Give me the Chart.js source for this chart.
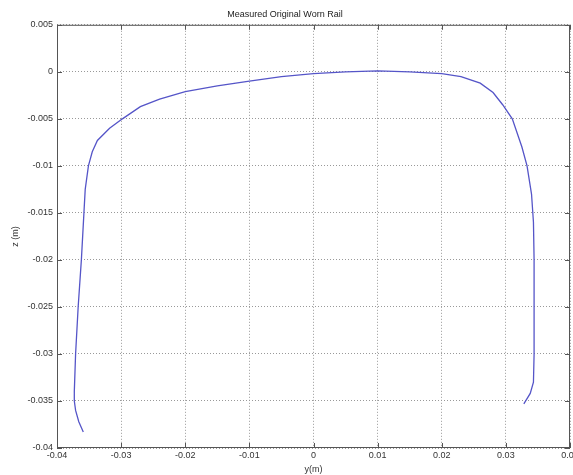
<!DOCTYPE html>
<html>
<head>
<meta charset="utf-8">
<script src="https://cdn.jsdelivr.net/npm/chart.js@4"></script>
<style>
  html, body { margin: 0; padding: 0; background: #fff; }
  #wrap { width: 573px; height: 475px; }
</style>
</head>
<body>
<div id="wrap"><canvas id="railChart" width="573" height="475"></canvas></div>
<script>
// rail profile: lateral y (m) and vertical z (m)
const yPos = [-0.0359, -0.0366, -0.0371, -0.0373, -0.0373, -0.0371, -0.0367, -0.0362, -0.0358, -0.0356,
    -0.0351, -0.0345, -0.0337, -0.0318, -0.0298, -0.0270, -0.0240, -0.0200, -0.0150, -0.0100,
    -0.0050, 0.0000, 0.0050, 0.0100, 0.0150, 0.0200, 0.0230, 0.0260, 0.0280, 0.0295,
    0.0310, 0.0325, 0.0333, 0.0340, 0.0343, 0.0344, 0.0344, 0.0344, 0.0343, 0.0338, 0.0328];
const zPos = [-0.0383, -0.0372, -0.0360, -0.0350, -0.0340, -0.0300, -0.0250, -0.0200, -0.0150, -0.0125,
    -0.0100, -0.0085, -0.0073, -0.0060, -0.0050, -0.0037, -0.0029, -0.0021, -0.0015, -0.0010,
    -0.0005, -0.0002, 0.0000, 0.0001, 0.0000, -0.0002, -0.0005, -0.0012, -0.0022, -0.0035,
    -0.0050, -0.0080, -0.0100, -0.0130, -0.0160, -0.0200, -0.0250, -0.0300, -0.0330, -0.0342, -0.0353];

const xTicks = [-0.04, -0.03, -0.02, -0.01, 0, 0.01, 0.02, 0.03, 0.04];
const zTicks = [0.005, 0, -0.005, -0.01, -0.015, -0.02, -0.025, -0.03, -0.035, -0.04];

const points = yPos.map((y, i) => ({ x: y, y: zPos[i] }));
const fmt = v => String(Number(v.toFixed(4)));
const font = { family: 'Liberation Sans, Arial, sans-serif', size: 9 };

// box round the axes plus the short inward tick marks, like matlab
const frame = {
    id: 'frame',
    afterDraw(chart) {
        const { ctx, chartArea: a, scales } = chart;
        ctx.save();
        ctx.strokeStyle = '#555';
        ctx.lineWidth = 1;
        ctx.strokeRect(a.left + 0.5, a.top + 0.5, a.right - a.left - 1, a.bottom - a.top - 1);
        ctx.beginPath();
        xTicks.forEach(t => {
            const px = Math.round(scales.x.getPixelForValue(t)) + 0.5;
            ctx.moveTo(px, a.bottom); ctx.lineTo(px, a.bottom - 5);
            ctx.moveTo(px, a.top); ctx.lineTo(px, a.top + 5);
        });
        zTicks.forEach(t => {
            const py = Math.round(scales.y.getPixelForValue(t)) + 0.5;
            ctx.moveTo(a.left, py); ctx.lineTo(a.left + 5, py);
            ctx.moveTo(a.right, py); ctx.lineTo(a.right - 5, py);
        });
        ctx.stroke();
        ctx.restore();
    }
};

new Chart(document.getElementById('railChart'), {
    type: 'scatter',
    data: {
        datasets: [{
            data: points,
            showLine: true,
            borderColor: '#5555c8',
            borderWidth: 1.3,
            pointRadius: 0,
            tension: 0
        }]
    },
    options: {
        responsive: false,
        animation: false,
        layout: { padding: { top: 0, right: 3, left: 0, bottom: 0 } },
        plugins: {
            legend: { display: false },
            tooltip: { enabled: false },
            title: {
                display: true,
                text: 'Measured Original Worn Rail',
                color: '#222',
                font: { ...font, weight: 'normal' },
                padding: { top: 9, bottom: 5 }
            }
        },
        scales: {
            x: {
                type: 'linear',
                min: -0.04, max: 0.04,
                afterBuildTicks: s => { s.ticks = xTicks.map(v => ({ value: v })); },
                afterFit: s => { s.height = 27; s.paddingLeft = 0; s.paddingRight = 0; },
                ticks: { color: '#333', font, padding: 2, maxRotation: 0, callback: fmt },
                grid: { color: '#999', drawTicks: false, lineWidth: 1 },
                border: { display: false, dash: [1, 2] },
                title: { display: true, text: 'y(m)', color: '#333', font, padding: 0 }
            },
            y: {
                type: 'linear',
                min: -0.04, max: 0.005,
                afterBuildTicks: s => { s.ticks = zTicks.map(v => ({ value: v })); },
                afterFit: s => { s.width = 57; s.paddingTop = 0; s.paddingBottom = 0; },
                ticks: { color: '#333', font, padding: 4, callback: fmt },
                grid: { color: '#999', drawTicks: false, lineWidth: 1 },
                border: { display: false, dash: [1, 2] },
                title: { display: true, text: 'z (m)', color: '#333', font, padding: { top: 10, bottom: 0 } }
            }
        }
    },
    plugins: [frame]
});
</script>
</body>
</html>
